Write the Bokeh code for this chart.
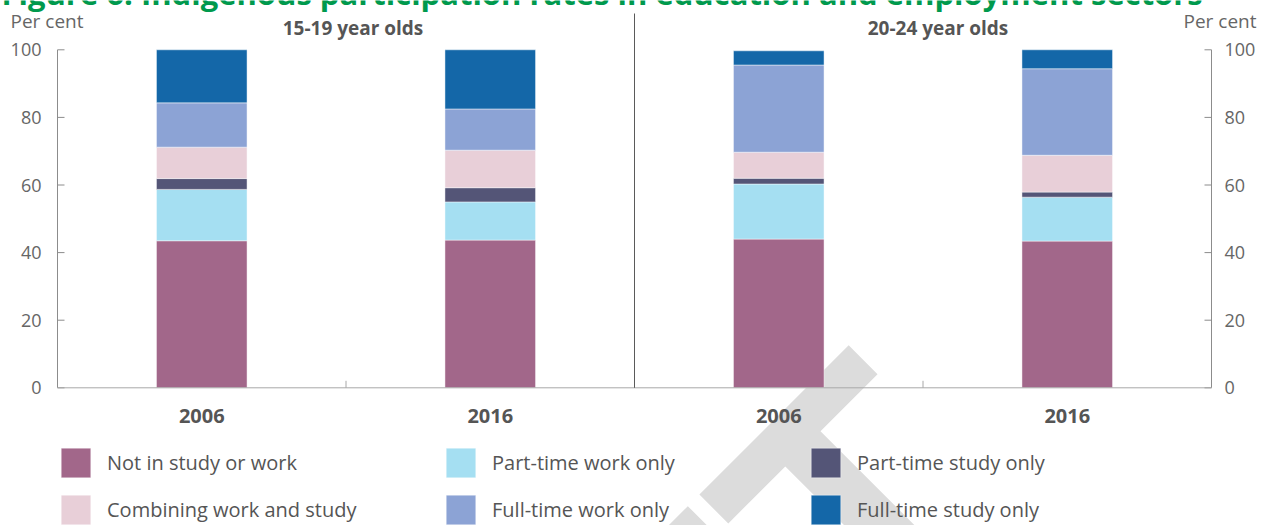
import math

from bokeh.core.properties import value
from bokeh.embed import file_html
from bokeh.models import ColumnDataSource, Label, Legend, LegendItem, Range1d
from bokeh.plotting import figure
from bokeh.resources import INLINE

# ---- data -----------------------------------------------------------------
groups = ["15-19 year olds", "20-24 year olds"]
years = ["2006", "2016", "2006", "2016"]
series = ["Not in study or work", "Part-time work only", "Part-time study only",
          "Combining work and study", "Full-time work only", "Full-time study only"]

not_in_study_or_work = [43.5, 43.7, 44.0, 43.4]
part_time_work_only = [15.2, 11.3, 16.3, 13.0]
part_time_study_only = [3.2, 4.2, 1.7, 1.5]
combining_work_and_study = [9.3, 11.1, 7.7, 10.9]
full_time_work_only = [13.1, 12.2, 25.8, 25.6]
full_time_study_only = [15.7, 17.5, 4.2, 5.6]

y_ticks = [0, 20, 40, 60, 80, 100]

colors = ["#a2678a", "#a5dff2", "#545577", "#e8cfd8", "#8ca3d5", "#1467a8"]

FONT = "Open Sans"
GREY_TEXT = "#555555"
TICK_TEXT = "#666666"
AXIS_GREY = "#8c8c8c"
BASE_GREY = "#a8a8a8"

# ---- canvas geometry (pixels) -------------------------------------------------
W, H = 1266, 525
LEFT = 57          # left edge of the plotting area
BASE = 387.3       # pixel row of the zero line
PX_X = 288.5       # pixels per bar slot
PX_Y = 3.38        # pixels per percentage point
n = len(years)


def dx(px):
    return px / PX_X


def dy(px):
    return px / PX_Y


def col_x(px):
    return dx(px - LEFT)


def row_y(px):
    return dy(BASE - px)


# ---- figure: the frame covers the whole canvas -------------------------------
p = figure(width=W, height=H,
           x_range=Range1d(col_x(0), col_x(W)), y_range=Range1d(row_y(H), row_y(0)),
           output_backend="svg", toolbar_location=None,
           x_axis_location=None, y_axis_location=None,
           min_border=0, outline_line_color=None,
           background_fill_color="white", border_fill_color="white")
p.grid.visible = False

# watermark sits underneath the chart
p.add_layout(Label(x=col_x(940), y=row_y(429), text="DRAFT", angle=math.pi / 4,
                   text_align="right", text_baseline="alphabetic",
                   text_font="Lato", text_font_style="bold",
                   text_font_size="370px", text_color="#dcdcdc",
                   level="underlay"))

# ---- stacked bars -------------------------------------------------------------
keys = ["s0", "s1", "s2", "s3", "s4", "s5"]
src = ColumnDataSource(dict(
    x=[i + 0.5 for i in range(n)],
    s0=not_in_study_or_work,
    s1=part_time_work_only,
    s2=part_time_study_only,
    s3=combining_work_and_study,
    s4=full_time_work_only,
    s5=full_time_study_only,
))
rs = p.vbar_stack(keys, x="x", width=0.314, color=colors, source=src,
                  line_color="white", line_alpha=0.45, line_width=1)

# ---- value axes on both sides ---------------------------------------------------
tick_len = 7
for side in (0, n):
    inward = 1 if side == 0 else -1
    p.segment(x0=[side], y0=[y_ticks[0]], x1=[side], y1=[y_ticks[-1]],
              line_color=AXIS_GREY, line_width=1)
    p.segment(x0=[side] * len(y_ticks), y0=y_ticks,
              x1=[side + inward * dx(tick_len)] * len(y_ticks), y1=y_ticks,
              line_color=AXIS_GREY, line_width=1)
    if side == 0:
        p.text(x=[side - dx(16)] * len(y_ticks), y=y_ticks,
               text=[str(t) for t in y_ticks], text_align="right",
               text_baseline="middle", text_font=value(FONT),
               text_font_size="18px", text_color=TICK_TEXT)
    else:
        p.text(x=[side + dx(13)] * len(y_ticks), y=y_ticks,
               text=[str(t) for t in y_ticks], text_align="left",
               text_baseline="middle", text_font=value(FONT),
               text_font_size="18px", text_color=TICK_TEXT)

# ---- category axis ---------------------------------------------------------------
p.segment(x0=[0], y0=[0], x1=[n], y1=[0], line_color=BASE_GREY, line_width=1)
p.segment(x0=[1, 3], y0=[0, 0], x1=[1, 3], y1=[dy(7)] * 2,
          line_color=BASE_GREY, line_width=1)
p.text(x=[i + 0.5 for i in range(n)], y=[row_y(415.5)] * n, text=years,
       text_align="center", text_baseline="middle", text_font=value(FONT),
       text_font_style="bold", text_font_size="20px", text_color=GREY_TEXT)

# divider between the two age groups
p.segment(x0=[2], y0=[0], x1=[2], y1=[row_y(13)], line_color="#5a5a5a",
          line_width=1)

# group headings
p.text(x=[1 + dx(7), 3 + dx(15)], y=[row_y(27)] * 2, text=groups,
       text_align="center", text_baseline="middle", text_font=value(FONT),
       text_font_style="bold", text_font_size="19px", text_color=GREY_TEXT)

# unit labels
p.text(x=[col_x(10)], y=[row_y(20)], text=["Per cent"], text_align="left",
       text_baseline="middle", text_font=value(FONT), text_font_size="19px",
       text_color=TICK_TEXT)
p.text(x=[col_x(1256)], y=[row_y(20)], text=["Per cent"], text_align="right",
       text_baseline="middle", text_font=value(FONT), text_font_size="19px",
       text_color=TICK_TEXT)

# figure title (runs off the top edge)
p.add_layout(Label(x=col_x(1), y=row_y(-7.7),
                   text="Figure 6: Indigenous participation rates in education and employment sectors",
                   text_align="left", text_baseline="alphabetic", text_font=FONT,
                   text_font_style="bold", text_font_size="31px",
                   text_color="#00994d"))

# ---- legend: three columns of two entries -----------------------------------------
legend_columns = [[0, 3], [1, 4], [2, 5]]
column_left = [57, 442, 807]
for idxs, left in zip(legend_columns, column_left):
    lg = Legend(items=[LegendItem(label=series[i], renderers=[rs[i]]) for i in idxs],
                location=(left, H - 527.7), orientation="vertical",
                glyph_width=37, glyph_height=37, spacing=10, padding=0, margin=0,
                label_standoff=13, border_line_color=None,
                background_fill_alpha=0,
                label_text_font=FONT, label_text_font_size="20px",
                label_text_color=GREY_TEXT)
    p.add_layout(lg)

open("out.html", "w").write(file_html(p, INLINE))
